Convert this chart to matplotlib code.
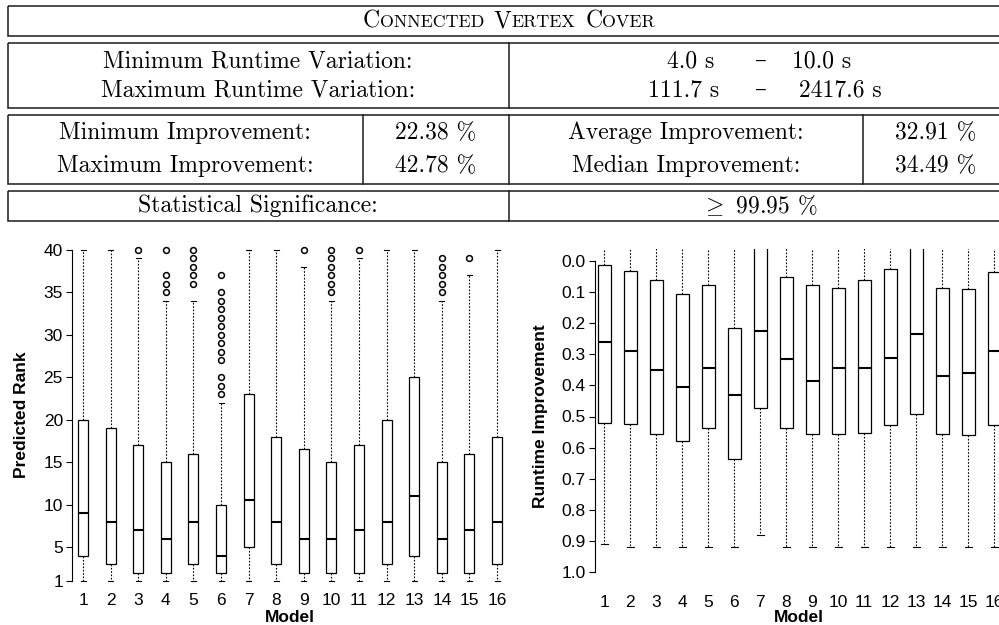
import numpy as np
import matplotlib.pyplot as plt
from matplotlib.patches import Rectangle
from matplotlib.offsetbox import TextArea, HPacker, AnnotationBbox

# ---- data -------------------------------------------------------------
models = list(range(1, 17))

# Predicted rank per model (box statistics)
rank_q1 = [4, 3, 2, 2, 3, 2, 5, 3, 2, 2, 2, 3, 4, 2, 2, 3]
rank_med = [9, 8, 7, 6, 8, 4, 10.5, 8, 6, 6, 7, 8, 11, 6, 7, 8]
rank_q3 = [20, 19, 17, 15, 16, 10, 23, 18, 16.5, 15, 17, 20, 25, 15, 16, 18]
rank_lo = [1, 1, 1, 1, 1, 1, 1, 1, 1, 1, 1, 1, 1, 1, 1, 1]
rank_hi = [40, 40, 39, 34, 34, 22, 40, 40, 38, 34, 39, 40, 40, 34, 37, 40]
rank_out = [[], [], [40], [35, 36, 37, 40], [36, 37, 38, 39, 40],
            [23, 24, 25, 27, 28, 29, 30, 31, 32, 33, 34, 35, 37],
            [], [], [40], [35, 36, 37, 38, 39, 40], [40], [], [],
            [35, 36, 37, 38, 39], [39], []]

# Runtime improvement per model (box statistics), axis is reversed
imp_q1 = [0.01, 0.03, 0.06, 0.105, 0.075, 0.215, -0.10, 0.05,
          0.075, 0.085, 0.06, 0.025, -0.10, 0.085, 0.09, 0.035]
imp_med = [0.26, 0.29, 0.35, 0.405, 0.345, 0.43, 0.225, 0.315,
           0.385, 0.345, 0.345, 0.31, 0.235, 0.37, 0.36, 0.29]
imp_q3 = [0.52, 0.525, 0.555, 0.578, 0.537, 0.638, 0.473, 0.537,
          0.556, 0.556, 0.554, 0.526, 0.492, 0.556, 0.559, 0.527]
imp_top = [-0.3, -0.3, -0.3, -0.3, -0.3, -0.3, -0.3, -0.3,
           -0.3, -0.3, -0.3, -0.3, -0.3, -0.3, -0.3, -0.3]
imp_bottom = [0.91, 0.92, 0.92, 0.92, 0.92, 0.92, 0.883, 0.92,
              0.92, 0.92, 0.92, 0.92, 0.92, 0.92, 0.92, 0.92]

# summary table
title = 'Connected Vertex Cover'
runtime_min = ('4.0 s', '10.0 s')
runtime_max = ('111.7 s', '2417.6 s')
min_impr = '22.38 %'
max_impr = '42.78 %'
avg_impr = '32.91 %'
med_impr = '34.49 %'
significance = r'$\geq$ 99.95 %'

# ---- figure -----------------------------------------------------------
W, H = 999, 625
plt.rcParams['font.family'] = 'Liberation Sans'
plt.rcParams['font.size'] = 12.5
plt.rcParams['mathtext.fontset'] = 'cm'
fig = plt.figure(figsize=(W / 100, H / 100), dpi=100)

serif = ['cmr10', 'DejaVu Serif']
ts = 17  # table font size

# table drawn in pixel coordinates
tab = fig.add_axes([0, 0, 1, 1])
tab.set_xlim(0, W)
tab.set_ylim(H, 0)
tab.axis('off')

lc = '#1a1a1a'
for y0, y1 in [(6, 36), (43, 108), (115, 184), (191, 221)]:
    tab.add_patch(Rectangle((8, y0), 1002, y1 - y0, fill=False, ec=lc, lw=1.1))
for x, y0, y1 in [(509, 43, 108), (363, 115, 184), (509, 115, 184),
                  (863, 115, 184), (509, 191, 221)]:
    tab.plot([x, x], [y0, y1], color=lc, lw=1.1)


# small caps title
def smallcaps(word):
    return HPacker(children=[TextArea(word[0], textprops=dict(size=ts, family=serif)),
                             TextArea(word[1:].upper(), textprops=dict(size=ts * 0.76, family=serif))],
                   align='baseline', pad=0, sep=0)


title_box = HPacker(children=[smallcaps(w) for w in title.split()],
                    align='baseline', pad=0, sep=7)
tab.add_artist(AnnotationBbox(title_box, (509, 21), xycoords='data', frameon=False,
                              box_alignment=(0.5, 0.5), pad=0))


def cell(x, y, s, ha='center'):
    tab.text(x, y, s, ha=ha, va='center', fontsize=ts, family=serif)


cell(258, 61, 'Minimum Runtime Variation:')
cell(258, 90, 'Maximum Runtime Variation:')
cell(691, 61, runtime_min[0])
cell(761, 61, '\u2013')
cell(822, 61, runtime_min[1])
cell(684, 90, runtime_max[0])
cell(761, 90, '\u2013')
cell(840, 90, runtime_max[1])

cell(185, 133, 'Minimum Improvement:')
cell(185, 166, 'Maximum Improvement:')
cell(436, 133, min_impr)
cell(436, 166, max_impr)
cell(686, 133, 'Average Improvement:')
cell(686, 166, 'Median Improvement:')
cell(936, 133, avg_impr)
cell(936, 166, med_impr)

cell(258, 206, 'Statistical Significance:')
cell(759, 206, significance)


# ---- box plots --------------------------------------------------------
def px_axes(left, top, right, bottom):
    return fig.add_axes([left / W, 1 - bottom / H, (right - left) / W, (bottom - top) / H])


def draw(ax, q1, med, q3, lo, hi, out, width, cap):
    stats = [dict(med=m, q1=a, q3=b, whislo=l, whishi=h, fliers=f)
             for a, m, b, l, h, f in zip(q1, med, q3, lo, hi, out)]
    ax.bxp(stats, positions=models, widths=width, capwidths=cap, patch_artist=True,
           boxprops=dict(facecolor='white', edgecolor='black', linewidth=0.9),
           medianprops=dict(color='black', linewidth=1.5, solid_capstyle='butt'),
           whiskerprops=dict(color='black', linewidth=0.8, linestyle=(0, (1.5, 1.5))),
           capprops=dict(color='black', linewidth=0.8),
           flierprops=dict(marker='o', markersize=4.2, markerfacecolor='none',
                           markeredgecolor='black', markeredgewidth=1.1))
    for s in ['top', 'right', 'bottom']:
        ax.spines[s].set_visible(False)
    ax.spines['left'].set_linewidth(0.8)
    ax.set_facecolor('none')
    ax.tick_params(axis='y', length=4.5, width=0.8, pad=2)
    ax.set_xticks(models)
    ax.set_xticklabels([str(m) for m in models])


# left: predicted rank
ax1 = px_axes(72, 237, 511, 588)
draw(ax1, rank_q1, rank_med, rank_q3, rank_lo, rank_hi, rank_out, 0.36, 0.18)
ax1.set_xlim(0.6, 16.505)
ax1.set_ylim(0.175, 41.53)
ax1.set_yticks([1, 5, 10, 15, 20, 25, 30, 35, 40])
ax1.spines['left'].set_bounds(1, 40)
ax1.tick_params(axis='x', length=0, pad=3.6)
ax1.set_xlabel('Model', fontweight='bold', va='center')
ax1.xaxis.set_label_coords(290 / W, 1 - 618 / H, transform=fig.transFigure)
ax1.set_ylabel('Predicted Rank', fontweight='bold', va='center', ha='center')
ax1.yaxis.set_label_coords(22 / W, 1 - 415 / H, transform=fig.transFigure)

# right: runtime improvement
ax2 = px_axes(595, 249, 1010, 584)
draw(ax2, imp_q1, imp_med, imp_q3, imp_top, imp_bottom, [[]] * 16, 0.5, 0.27)
ax2.set_xlim(0.65, 16.61)
ax2.set_ylim(1.04, -0.04)
ax2.set_yticks(np.round(np.arange(0, 1.01, 0.1), 1))
ax2.set_yticklabels(['%.1f' % v for v in np.arange(0, 1.01, 0.1)])
ax2.spines['left'].set_bounds(0, 1)
ax2.tick_params(axis='x', length=0, pad=8)
ax2.set_xlabel('Model', fontweight='bold', va='center')
ax2.xaxis.set_label_coords(799 / W, 1 - 618 / H, transform=fig.transFigure)
ax2.set_ylabel('Runtime Improvement', fontweight='bold', va='center', ha='center')
ax2.yaxis.set_label_coords(540 / W, 1 - 416 / H, transform=fig.transFigure)

fig.savefig('out.png', dpi=100)
